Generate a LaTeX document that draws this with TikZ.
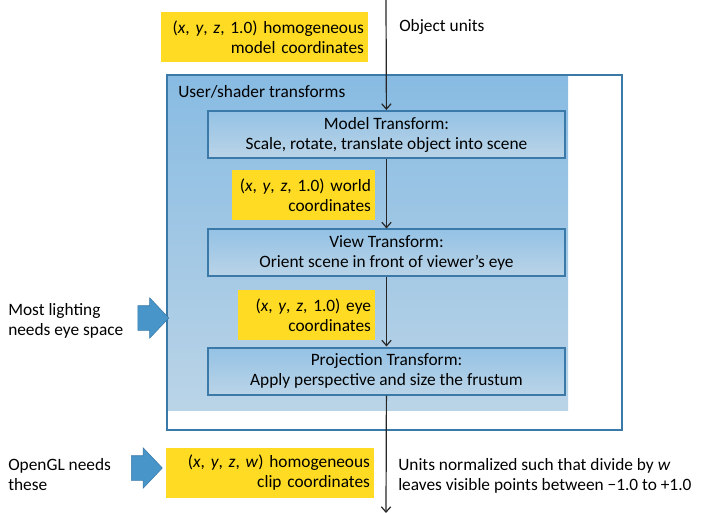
\documentclass[tikz,border=0pt]{standalone}
\usepackage{fontspec}
\setmainfont{Carlito}
\usetikzlibrary{arrows,arrows.meta,shapes.arrows}
\definecolor{boxline}{HTML}{3A79A8}
\definecolor{bluetop}{HTML}{88BBE2}
\definecolor{bluebot}{HTML}{BAD4E7}
\definecolor{yel}{HTML}{FFDC23}
\definecolor{fatarrow}{HTML}{4795C9}
\tikzset{main base/.style={text centered, inner sep=0pt}, }
\tikzset{main node/.style={rectangle, draw=boxline, line width=1.5pt, main base,
    top color=bluetop!90, bottom color=bluebot, minimum width=267.75pt, minimum height=35.25pt, align=center}, }
\tikzset{coord node/.style={rectangle, fill=yel, inner xsep=3pt, align=right, minimum height=38pt}, }
\tikzset{main verb/.style={inner sep=0pt, align=left}, }
\tikzset{linea/.style={-{Straight Barb[length=4pt,width=7pt]},line width=0.9pt,draw,black!85}}
\tikzset{fat/.style={single arrow, draw=boxline, fill=fatarrow, single arrow head extend=6pt,
    single arrow tip angle=93, minimum height=23.25pt, minimum width=30pt, inner xsep=0pt, inner ysep=9pt}, }

\begin{document}
\begin{tikzpicture}[x=0.75pt,y=-0.75pt,font=\fontsize{13}{15}\selectfont]
  \useasboundingbox (0,0) rectangle (703,513);
  % shaded area and outline
  \shade[top color=bluetop, bottom color=bluebot] (167,75) rectangle (568,410);
  \draw[boxline, line width=1.2pt] (167,75) rectangle (622,430);
  \node[main verb, anchor=west] (0) at (178,92) {User/shader transforms};
  %
  \coordinate (top) at (386,0);
  \coordinate (bot) at (386,513);
  \node[main node] (1) at (386.5,134.5) {Model Transform:\\Scale, rotate, translate object into scene};
  \node[main node] (2) at (386.5,253) {View Transform:\\Orient scene in front of viewer's eye};
  \node[main node] (3) at (386.5,371) {Projection Transform:\\Apply perspective and size the frustum};
  %
  \node[coord node, text width=149.25pt] (4) at (264.5,37) {(\textit{x}, \textit{y}, \textit{z}, 1.0) homogeneous\\model coordinates};
  \node[coord node, text width=101.25pt] (5) at (303.5,195) {(\textit{x}, \textit{y}, \textit{z}, 1.0) world\\coordinates};
  \node[coord node, text width=96.75pt] (6) at (306.5,315) {(\textit{x}, \textit{y}, \textit{z}, 1.0) eye\\coordinates};
  \node[coord node, text width=150pt] (7) at (270,473) {(\textit{x}, \textit{y}, \textit{z}, \textit{w}) homogeneous\\clip coordinates};
  %
  \node[main verb, anchor=west] (8) at (399,27) {Object units};
  \node[main verb, anchor=west] (9) at (398,476) {Units normalized such that divide by \textit{w}\\leaves visible points between −1.0 to +1.0};
  \node[main verb, anchor=west] (10) at (8,321) {Most lighting\\needs eye space};
  \node[main verb, anchor=west] (11) at (8,475) {OpenGL needs\\these};
  \node[fat] (12) at (147.5,318) {};
  \node[fat] (13) at (141,468) {};
  \foreach \x /\y in{top/1,1/2,2/3,3/bot}
    \draw[linea] (\x) -- (\y);

\end{tikzpicture}
\end{document}
